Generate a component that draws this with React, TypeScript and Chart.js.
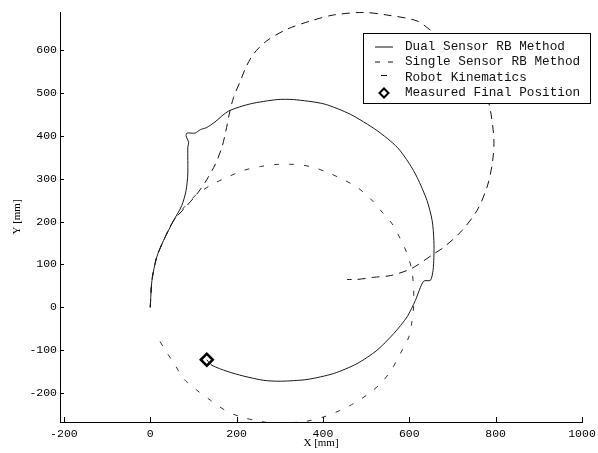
import React, { useEffect, useRef } from 'react';
import { Chart, registerables } from 'chart.js';

Chart.register(...registerables);

// ---- Data (in mm) ----
const dualX = [0, 4, 15, 31, 54, 73, 83, 87, 87, 89, 83, 85, 104, 116, 131, 150, 181, 232, 294, 332, 402, 463, 525, 572, 600, 618, 641, 653, 657, 657, 655, 649, 633, 614, 595, 564, 525, 479, 425, 363, 301, 263, 216, 178, 143, 131];
const dualY = [0, 63, 117, 156, 202, 237, 272, 311, 373, 384, 400, 406, 406, 414, 419, 432, 457, 474, 484, 484, 474, 450, 412, 373, 335, 303, 249, 202, 156, 117, 86, 63, 61, 16, -22, -61, -100, -131, -154, -168, -172, -170, -160, -149, -135, -122];

const singleX = [0, 4, 15, 31, 54, 85, 108, 127, 151, 166, 175, 183, 193, 209, 222, 239, 270, 317, 371, 424, 494, 548, 618, 656, 700, 745, 775, 788, 796, 792, 780, 757, 722, 680, 657, 618, 595, 556, 517, 479, 456];
const singleY = [0, 63, 117, 156, 202, 237, 264, 291, 334, 373, 410, 450, 489, 528, 560, 590, 621, 648, 667, 681, 687, 681, 667, 640, 605, 555, 505, 458, 388, 334, 280, 226, 179, 140, 125, 98, 86, 74, 70, 65, 65];

const kinX = [0, 4, 15, 31, 54, 80, 104, 139, 178, 216, 255, 294, 332, 371, 409, 444, 479, 510, 537, 560, 579, 595, 606, 610, 610, 606, 599, 579, 560, 537, 506, 471, 440, 402, 363, 320, 278, 247, 209, 174, 139, 108, 77, 58, 35, 20];
const kinY = [0, 63, 117, 156, 202, 235, 260, 284, 303, 319, 328, 333, 333, 328, 315, 299, 280, 253, 222, 195, 160, 125, 86, 43, 1, -34, -69, -108, -143, -174, -201, -224, -240, -255, -265, -269, -269, -264, -255, -240, -216, -193, -166, -135, -100, -75];

const finalX = [131];
const finalY = [-122];

const xTickValues = [-200, 0, 200, 400, 600, 800, 1000];
const yTickValues = [-200, -100, 0, 100, 200, 300, 400, 500, 600];
const xLimits = [-209, 1000];
const yLimits = [-267, 688];

const seriesLabels = ['Dual Sensor RB Method', 'Single Sensor RB Method', 'Robot Kinematics', 'Measured Final Position'];
const xTitle = 'X [mm]';
const yTitle = 'Y [mm]';

const toPoints = (xs: number[], ys: number[]) => xs.map((x, i) => ({ x, y: ys[i] }));

const inwardTicks = {
  id: 'inwardTicks',
  afterDatasetsDraw(chart: any) {
    const { ctx, chartArea, scales } = chart;
    ctx.save();
    ctx.strokeStyle = '#000';
    ctx.lineWidth = 1;
    scales.x.ticks.forEach((t: any) => {
      const px = Math.round(scales.x.getPixelForValue(t.value)) + 0.5;
      ctx.beginPath();
      ctx.moveTo(px, chartArea.bottom);
      ctx.lineTo(px, chartArea.bottom - 5);
      ctx.stroke();
    });
    scales.y.ticks.forEach((t: any) => {
      const py = Math.round(scales.y.getPixelForValue(t.value)) + 0.5;
      ctx.beginPath();
      ctx.moveTo(chartArea.left, py);
      ctx.lineTo(chartArea.left + 4, py);
      ctx.stroke();
    });
    ctx.restore();
  },
};

const boxLegend = {
  id: 'boxLegend',
  afterDraw(chart: any) {
    const { ctx } = chart;
    const left = 363.5, top = 33.5, right = 590.5, bottom = 103.5;
    const rows = [47, 62, 77.5, 93];
    ctx.save();
    ctx.fillStyle = '#fff';
    ctx.fillRect(left, top, right - left, bottom - top);
    ctx.strokeStyle = '#000';
    ctx.lineWidth = 1;
    ctx.setLineDash([]);
    ctx.strokeRect(left, top, right - left, bottom - top);
    // samples
    ctx.strokeStyle = '#111';
    ctx.beginPath(); ctx.moveTo(375, rows[0]); ctx.lineTo(393, rows[0]); ctx.stroke();
    ctx.beginPath(); ctx.moveTo(375, rows[1]); ctx.lineTo(380, rows[1]); ctx.moveTo(388, rows[1]); ctx.lineTo(393, rows[1]); ctx.stroke();
    ctx.beginPath(); ctx.moveTo(381, rows[2] - 2); ctx.lineTo(387, rows[2] - 2); ctx.stroke();
    ctx.lineWidth = 2;
    ctx.strokeStyle = '#000';
    const cx = 384, cy = rows[3], r = 4.5;
    ctx.beginPath();
    ctx.moveTo(cx, cy - r); ctx.lineTo(cx + r, cy); ctx.lineTo(cx, cy + r); ctx.lineTo(cx - r, cy); ctx.closePath();
    ctx.stroke();
    // labels
    ctx.fillStyle = '#111';
    ctx.font = '12.7px "Liberation Mono", monospace';
    ctx.textBaseline = 'middle';
    ctx.textAlign = 'left';
    seriesLabels.forEach((lab, i) => ctx.fillText(lab, 405, rows[i]));
    ctx.restore();
  },
};

export default function App() {
  const ref = useRef<HTMLCanvasElement | null>(null);
  useEffect(() => {
    if (!ref.current) return;
    const tickFont = { family: '"Liberation Mono", monospace', size: 11.5 };
    const titleFont = { family: '"Liberation Serif", serif', size: 11 };
    const plain = (v: any) => String(v);
    const chart = new Chart(ref.current, {
      type: 'scatter',
      data: {
        datasets: [
          {
            label: seriesLabels[0],
            data: toPoints(dualX, dualY),
            showLine: true,
            borderColor: '#1a1a1a',
            borderWidth: 1,
            pointRadius: 0,
            tension: 0.25,
            fill: false,
          },
          {
            label: seriesLabels[1],
            data: toPoints(singleX, singleY),
            showLine: true,
            borderColor: '#111',
            borderWidth: 1,
            borderDash: [8, 6],
            pointRadius: 0,
            tension: 0.3,
            fill: false,
          },
          {
            label: seriesLabels[2],
            data: toPoints(kinX, kinY),
            showLine: true,
            borderColor: '#333',
            borderWidth: 1,
            borderDash: [5, 10],
            pointRadius: 0,
            tension: 0.3,
            fill: false,
          },
          {
            label: seriesLabels[3],
            data: toPoints(finalX, finalY),
            showLine: false,
            pointStyle: 'rectRot',
            pointRadius: 6,
            borderColor: '#000',
            backgroundColor: '#fff',
            borderWidth: 2.5,
          },
        ],
      },
      options: {
        animation: false,
        responsive: false,
        devicePixelRatio: 1,
        layout: { padding: { top: 12, right: 16, left: 0, bottom: 0 } },
        plugins: { legend: { display: false }, tooltip: { enabled: false } },
        scales: {
          x: {
            type: 'linear',
            min: xLimits[0],
            max: xLimits[1],
            afterBuildTicks: (s: any) => { s.ticks = xTickValues.map((v) => ({ value: v })); },
            afterFit: (s: any) => { s.height = 31; s.paddingLeft = 0; s.paddingRight = 0; },
            grid: { display: false, drawTicks: false },
            border: { display: true, color: '#000', width: 1 },
            ticks: { font: tickFont, color: '#000', padding: 5, autoSkip: false, maxRotation: 0, includeBounds: false, callback: plain },
            title: { display: true, text: xTitle, font: titleFont, color: '#000', padding: { top: 0, bottom: 3 } },
          },
          y: {
            type: 'linear',
            min: yLimits[0],
            max: yLimits[1],
            afterBuildTicks: (s: any) => { s.ticks = yTickValues.map((v) => ({ value: v })); },
            afterFit: (s: any) => { s.width = 60; s.paddingTop = 0; s.paddingBottom = 0; },
            grid: { display: false, drawTicks: false },
            border: { display: true, color: '#000', width: 1 },
            ticks: { font: tickFont, color: '#000', padding: 3, autoSkip: false, includeBounds: false, callback: plain },
            title: { display: true, text: yTitle, font: titleFont, color: '#000', padding: { top: 11, bottom: 0 } },
          },
        },
      },
      plugins: [inwardTicks, boxLegend],
    } as any);
    return () => chart.destroy();
  }, []);
  return (
    <div style={{ position: 'absolute', left: 0, top: 0, width: 598, height: 453, background: '#fff' }}>
      <canvas ref={ref} width={598} height={453} />
    </div>
  );
}
